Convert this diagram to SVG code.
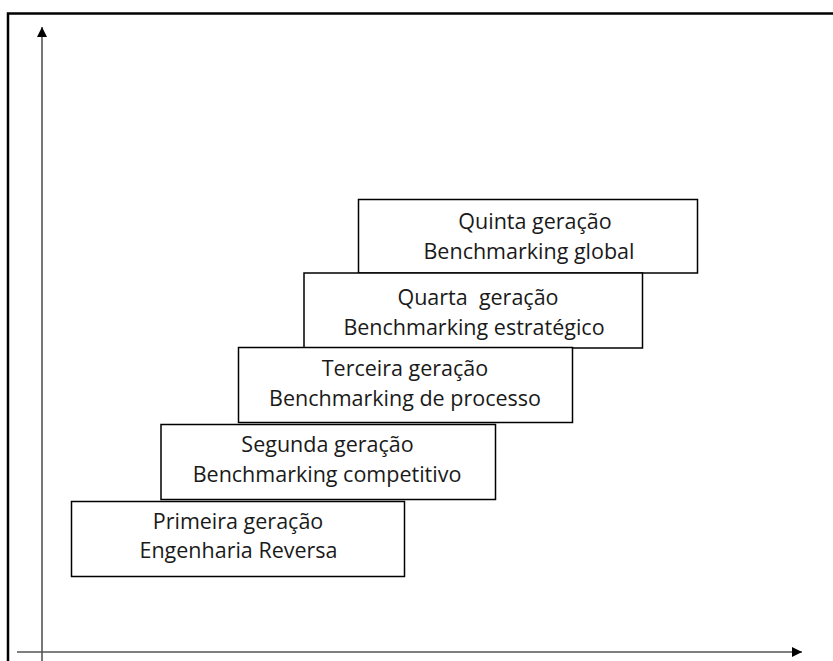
<svg xmlns="http://www.w3.org/2000/svg" width="833" height="661" viewBox="0 0 833 661">
<style>
.box{fill:#fff;stroke:#000;stroke-width:1.5}
.t{font-family:"Open Sans","Noto Sans",sans-serif;font-size:21.5px;fill:#1a1a1a;text-anchor:middle}
.axis{stroke:#555;stroke-width:1.6;fill:none}
</style>
<defs>
<marker id="ah" viewBox="0 0 10 10" refX="10" refY="5" markerWidth="10" markerHeight="10" markerUnits="userSpaceOnUse" orient="auto">
<path d="M0,0 L10,5 L0,10 z" fill="#000"/>
</marker>
</defs>
<rect width="833" height="661" fill="#fff"/>
<rect x="8" y="13.5" width="840" height="660" fill="none" stroke="#000" stroke-width="2.5"/>
<g id="connectors">
<line class="axis" x1="42" y1="661" x2="42" y2="27" marker-end="url(#ah)"/>
<line class="axis" x1="17" y1="652" x2="802" y2="652" marker-end="url(#ah)"/>
</g>
<g id="quinta">
<rect class="box" x="358.5" y="199.5" width="339" height="73.5"/>
<text class="t" x="535" y="229">Quinta geração</text>
<text class="t" x="529" y="259">Benchmarking global</text>
</g>
<g id="quarta">
<rect class="box" x="304" y="273" width="338.5" height="75"/>
<text class="t" x="478" y="305" xml:space="preserve">Quarta  geração</text>
<text class="t" x="474" y="335">Benchmarking estratégico</text>
</g>
<g id="terceira">
<rect class="box" x="238.5" y="347.5" width="334" height="75"/>
<text class="t" x="405" y="376">Terceira geração</text>
<text class="t" x="405" y="405.5">Benchmarking de processo</text>
</g>
<g id="segunda">
<rect class="box" x="161" y="424.5" width="334.5" height="75"/>
<text class="t" x="327.5" y="451.5">Segunda geração</text>
<text class="t" x="327" y="481.5">Benchmarking competitivo</text>
</g>
<g id="primeira">
<rect class="box" x="71.5" y="501.5" width="333" height="75"/>
<text class="t" x="238" y="528.5">Primeira geração</text>
<text class="t" x="238.5" y="558">Engenharia Reversa</text>
</g>
</svg>
